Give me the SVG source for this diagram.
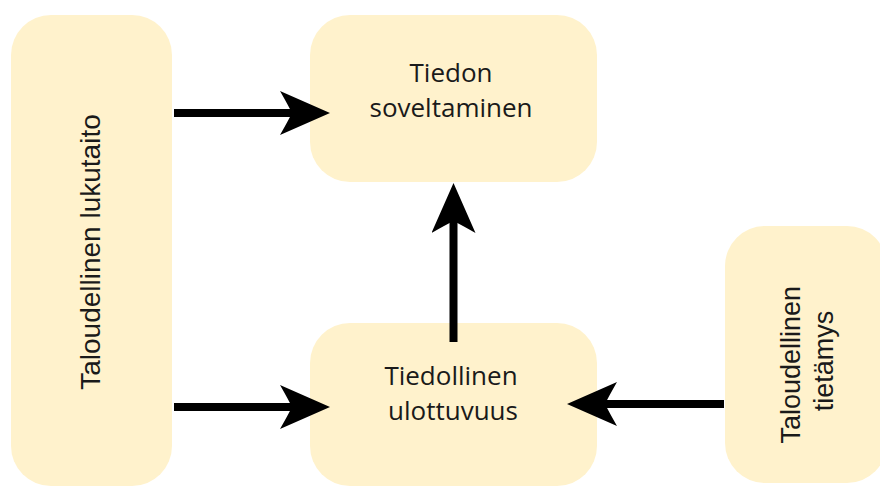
<svg xmlns="http://www.w3.org/2000/svg" width="880" height="487" viewBox="0 0 880 487">
  <style>
    .box { fill: #FFF2CC; }
    .lbl { font-family: "Open Sans", "Noto Sans", sans-serif; font-size: 26px; fill: #1a1a1a; text-anchor: middle; }
    .vlbl { font-family: "Liberation Sans", Arial, sans-serif; fill: #1a1a1a; text-anchor: middle; }
    .edge { stroke: #000; stroke-width: 8; fill: none; marker-end: url(#head); }
  </style>
  <defs>
    <!-- concave arrowhead; ref point sits at the notch so the shaft hides inside -->
    <marker id="head" markerUnits="userSpaceOnUse" viewBox="0 0 50 44" markerWidth="50" markerHeight="44" refX="12" refY="22" orient="auto">
      <path d="M0,0 L50,22 L0,44 Q8,30 12,22 Q8,14 0,0 Z" fill="#000"/>
    </marker>
  </defs>

  <rect width="880" height="487" fill="#fff"/>

  <g id="node-lukutaito">
    <rect class="box" x="11" y="15" width="161" height="471" rx="40"/>
    <text class="vlbl" font-size="28" transform="translate(100,252) rotate(-90)">Taloudellinen lukutaito</text>
  </g>

  <g id="node-soveltaminen">
    <rect class="box" x="310" y="15" width="287" height="167" rx="40"/>
    <text class="lbl" x="451" y="82">Tiedon</text>
    <text class="lbl" x="451" y="117">soveltaminen</text>
  </g>

  <g id="node-ulottuvuus">
    <rect class="box" x="310" y="323" width="287" height="163" rx="40"/>
    <text class="lbl" x="451" y="385">Tiedollinen</text>
    <text class="lbl" x="453" y="420">ulottuvuus</text>
  </g>

  <g id="node-tietamys">
    <rect class="box" x="725" y="226" width="162" height="257" rx="40"/>
    <text class="vlbl" font-size="27" transform="translate(800,361) rotate(-90)">
      <tspan x="0" dy="0">Taloudellinen</tspan>
      <tspan x="0" dy="33">tietämys</tspan>
    </text>
  </g>

  <g id="connectors">
    <line class="edge" x1="174" y1="113" x2="292" y2="113"/>
    <line class="edge" x1="174" y1="407" x2="292" y2="407"/>
    <line class="edge" x1="453.5" y1="342" x2="453.5" y2="221"/>
    <line class="edge" x1="724" y1="404" x2="605" y2="404"/>
  </g>
</svg>
